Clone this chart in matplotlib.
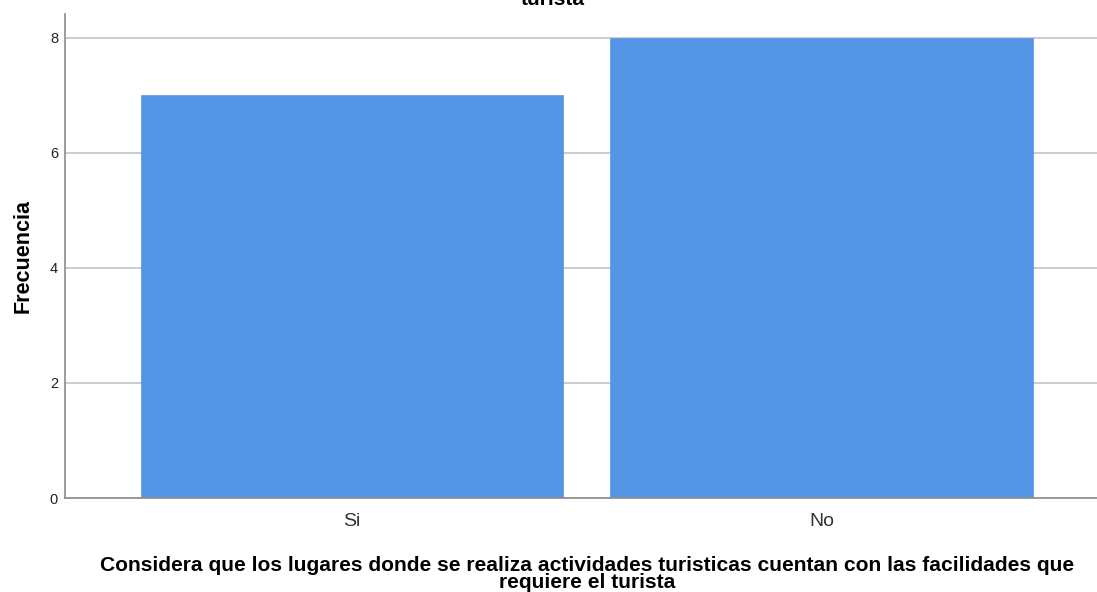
import matplotlib
matplotlib.use('Agg')
from matplotlib import pyplot as plt

categories = ['Si', 'No']
frequencies = [7, 8]
y_ticks = [0, 2, 4, 6, 8]

title_tail = 'turista'
x_label = ('Considera que los lugares donde se realiza actividades turisticas cuentan con las facilidades que\n'
           'requiere el turista')
y_label = 'Frecuencia'

bar_color = '#5595e5'
grid_color = '#c8c8c8'
spine_color = '#8c8c8c'

plt.rcParams['font.family'] = ['Liberation Sans', 'DejaVu Sans']

fig = plt.figure(figsize=[10.97, 5.92], dpi=100)
ax = fig.add_axes([65 / 1097, 1 - 498 / 592, 1 - 65 / 1097, (498 - 14) / 592])

ax.set_axisbelow(True)
ax.yaxis.grid(True, color=grid_color, linewidth=1.3)
positions = list(range(len(categories)))
ax.bar(positions, frequencies, width=0.9, color=bar_color, edgecolor=bar_color, linewidth=0.5)

ax.set_xlim(-0.611, 1.587)
ax.set_ylim(0, 8.417)
ax.set_yticks(y_ticks)
ax.set_xticks(positions)
ax.set_xticklabels(categories, fontsize=14, color='#333333')
ax.tick_params(axis='y', length=0, pad=5, labelsize=10.5, labelcolor='#222222')
ax.tick_params(axis='x', length=0, pad=10.5)

for side in ['top', 'right']:
    ax.spines[side].set_visible(False)
for side in ['left', 'bottom']:
    ax.spines[side].set_color(spine_color)
    ax.spines[side].set_linewidth(1.2)

ax.set_ylabel(y_label, fontsize=15.5, fontweight='bold', labelpad=12)

# x axis title, two centred lines under the tick labels
fig.text(587 / 1097, 1 - 556 / 592, x_label, ha='center', va='top',
         fontsize=15.1, fontweight='bold', linespacing=0.9)

# last line of the chart title, the rest lies above the picture
fig.text(553 / 1097, 1 - 5 / 592, title_tail, ha='center', va='baseline',
         fontsize=15, fontweight='bold')

fig.savefig('out.png', dpi=100)
